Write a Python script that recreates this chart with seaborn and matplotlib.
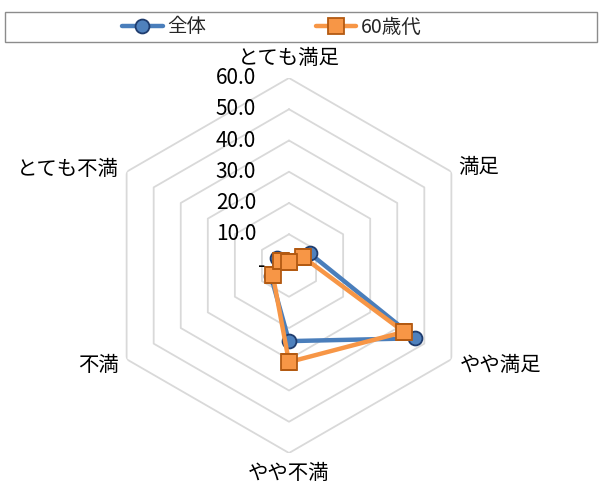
import numpy as np
import pandas as pd
import matplotlib.pyplot as plt
from matplotlib.patches import Rectangle
import seaborn as sns

# data (%)
categories = ["とても満足", "満足", "やや満足", "やや不満", "不満", "とても不満"]
zentai = [1.5, 7.7, 46.6, 24.2, 6.7, 4.5]
sixties = [1.0, 5.3, 42.5, 30.9, 6.0, 3.0]
series_names = ["全体", "60歳代"]
levels = [10, 20, 30, 40, 50, 60]
level_labels = ["10.0", "20.0", "30.0", "40.0", "50.0", "60.0"]

sns.set_theme(style="white")
plt.rcParams["font.family"] = ["Noto Sans CJK JP", "DejaVu Sans"]

W, H = 601, 486
fig = plt.figure(figsize=(W / 100, H / 100), dpi=100)

# polar area: centre (289, 265.5), radius 187.5 px
cx, cy, R = 289, 265.5, 187.5
ax = fig.add_axes([(cx - R) / W, (H - cy - R) / H, 2 * R / W, 2 * R / H],
                  projection="polar")
ax.set_theta_zero_location("N")
ax.set_theta_direction(-1)
ax.set_ylim(0, 60)
ax.grid(False)
ax.spines["polar"].set_visible(False)
ax.set_xticks([])
ax.set_yticks([])
ax.set_facecolor("none")

n = len(categories)
theta = np.linspace(0, 2 * np.pi, n, endpoint=False)
theta_closed = np.append(theta, 2 * np.pi)

# hexagonal rings
for lv in levels:
    ax.plot(theta_closed, [lv] * (n + 1), color="#d9d9d9", lw=1.3, zorder=1)

styles = {
    "全体": dict(color="#4a7ebb", marker="o", markerfacecolor="#4f81bd",
                 markeredgecolor="#1f3c6e", ms=10),
    "60歳代": dict(color="#f79646", marker="s", markerfacecolor="#f79646",
                  markeredgecolor="#b35a12", ms=12),
}
for name, vals in zip(series_names, [zentai, sixties]):
    df = pd.DataFrame({"theta": theta_closed, "value": vals + vals[:1]})
    sns.lineplot(data=df, x="theta", y="value", ax=ax, sort=False,
                 estimator=None, lw=3.2, markeredgewidth=1.3,
                 label=name, zorder=3, **styles[name])
ax.set_xlabel("")
ax.set_ylabel("")
ax.get_legend().remove()

# radial value labels
for lv, lab in zip(levels, level_labels):
    ax.annotate(lab, xy=(0, lv), xytext=(-33, 0), textcoords="offset pixels",
                ha="right", va="center", fontsize=15, color="#000000")
ax.annotate("-", xy=(0, 0), xytext=(-24, 0), textcoords="offset pixels",
            ha="right", va="center", fontsize=15, color="#000000")

# category labels
label_pos = [
    ((0, 20), "center", "center"),
    ((7, 4), "left", "center"),
    ((8, -6), "left", "center"),
    ((0, -20), "center", "center"),
    ((-8, -6), "right", "center"),
    ((-8, 2), "right", "center"),
]
for t, cat, (off, ha, va) in zip(theta, categories, label_pos):
    ax.annotate(cat, xy=(t, 60), xytext=off, textcoords="offset pixels",
                ha=ha, va=va, fontsize=14.7, color="#000000")

# legend with a full-width frame
handles, labels = ax.get_lines()[-2:], series_names
fig.legend(handles, labels, loc="center left",
           bbox_to_anchor=(122 / W, 1 - 27 / H), ncol=2, frameon=False,
           fontsize=14, handlelength=2.1, handletextpad=0.25,
           columnspacing=5.6, borderpad=0, borderaxespad=0)
fig.patches.append(Rectangle((5 / W, 1 - 42 / H), 592 / W, 30 / H,
                             transform=fig.transFigure, fill=False,
                             ec="#8c8c8c", lw=1))

fig.savefig("out.png", dpi=100)
